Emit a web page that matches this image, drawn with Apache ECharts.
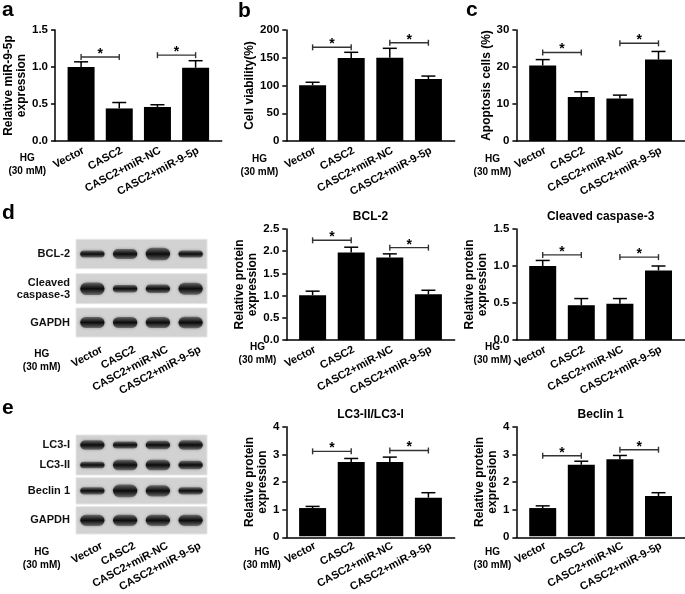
<!DOCTYPE html>
<html><head><meta charset="utf-8">
<script src="https://cdn.jsdelivr.net/npm/echarts@6/dist/echarts.min.js"></script>
<style>html,body{margin:0;padding:0;background:#fff}#c{width:685px;height:594px}</style>
</head><body><div id="c"></div>
<script>
const groups = ['Vector', 'CASC2', 'CASC2+miR-NC', 'CASC2+miR-9-5p'];
// a: relative miR-9-5p expression
const mirValues = [1.00, 0.44, 0.46, 0.99];
const mirErrors = [0.07, 0.08, 0.03, 0.095];
const mirBrackets = [[0, 1, 1.135], [2, 3, 1.16]];
// b: cell viability (%)
const viabilityValues = [100.5, 149.5, 150, 111.7];
const viabilityErrors = [5.3, 10.3, 17, 5.3];
const viabilityBrackets = [[0, 1, 168.8], [2, 3, 177]];
// c: apoptosis cells (%)
const apoptosisValues = [20.4, 11.9, 11.5, 22.0];
const apoptosisErrors = [1.6, 1.4, 0.9, 2.2];
const apoptosisBrackets = [[0, 1, 23.9], [2, 3, 26.4]];
// d: BCL-2 / Cleaved caspase-3
const bcl2Values = [1.01, 1.97, 1.86, 1.03];
const bcl2Errors = [0.09, 0.12, 0.08, 0.09];
const bcl2Brackets = [[0, 1, 2.245], [2, 3, 2.08]];
const caspValues = [1.00, 0.47, 0.49, 0.94];
const caspErrors = [0.075, 0.09, 0.07, 0.06];
const caspBrackets = [[0, 1, 1.15], [2, 3, 1.12]];
// e: LC3-II/LC3-I / Beclin 1
const lc3Values = [1.03, 2.71, 2.71, 1.41];
const lc3Errors = [0.06, 0.13, 0.18, 0.18];
const lc3Brackets = [[0, 1, 3.1], [2, 3, 3.13]];
const beclinValues = [1.03, 2.61, 2.81, 1.47];
const beclinErrors = [0.08, 0.13, 0.14, 0.12];
const beclinBrackets = [[0, 1, 2.94], [2, 3, 3.16]];
// western blot band strengths (relative)
const bcl2Bands = [0.35, 0.65, 0.95, 0.35];
const caspBands = [0.95, 0.4, 0.5, 0.9];
const gapdhBandsD = [0.8, 0.8, 0.8, 0.85];
const lc3iBands = [0.6, 0.35, 0.5, 0.6];
const lc3iiBands = [0.3, 0.7, 0.7, 0.5];
const beclinBands = [0.35, 0.95, 0.8, 0.35];
const gapdhBandsE = [0.8, 0.8, 0.8, 0.8];

const FONT = '"Liberation Sans", Arial, Helvetica, sans-serif';
const chart = echarts.init(document.getElementById('c'));

const panels = [
  {vals: mirValues, errs: mirErrors, br: mirBrackets, left: 55, top: 30, width: 166.7, height: 111, max: 1.5, interval: 0.5, dec: 1, name: 'Relative miR-9-5p\nexpression', gap: 22},
  {vals: viabilityValues, errs: viabilityErrors, br: viabilityBrackets, left: 286.3, top: 30, width: 168.4, height: 111, max: 200, interval: 50, dec: 0, name: 'Cell viability(%)', gap: 27},
  {vals: apoptosisValues, errs: apoptosisErrors, br: apoptosisBrackets, left: 516.4, top: 30, width: 168.4, height: 111, max: 30, interval: 10, dec: 0, name: 'Apoptosis cells (%)', gap: 15},
  {vals: bcl2Values, errs: bcl2Errors, br: bcl2Brackets, left: 286.3, top: 229, width: 168.4, height: 111, max: 2.5, interval: 0.5, dec: 1, name: 'Relative protein\nexpression', gap: 21, title: 'BCL-2'},
  {vals: caspValues, errs: caspErrors, br: caspBrackets, left: 516.4, top: 229, width: 168.4, height: 111, max: 1.5, interval: 0.5, dec: 1, name: 'Relative protein\nexpression', gap: 22, title: 'Cleaved caspase-3'},
  {vals: lc3Values, errs: lc3Errors, br: lc3Brackets, left: 286.3, top: 426.7, width: 168.4, height: 110.6, max: 4, interval: 1, dec: 0, name: 'Relative protein\nexpression', gap: 13, title: 'LC3-II/LC3-I'},
  {vals: beclinValues, errs: beclinErrors, br: beclinBrackets, left: 516.4, top: 426.7, width: 168.4, height: 110.6, max: 4, interval: 1, dec: 0, name: 'Relative protein\nexpression', gap: 13, title: 'Beclin 1'}
];

const grid = [], xAxis = [], yAxis = [], series = [], graphic = [];
const INSET = 7;

function errItem(params, api) {
  const x = api.value(0), v = api.value(1), e = api.value(2);
  const p0 = api.coord([x, v]);
  const p1 = api.coord([x, v + e]);
  const st = {stroke: '#000', lineWidth: 1.5};
  return {type: 'group', children: [
    {type: 'line', shape: {x1: p0[0], y1: p0[1], x2: p1[0], y2: p1[1]}, style: st},
    {type: 'line', shape: {x1: p1[0] - 7, y1: p1[1], x2: p1[0] + 7, y2: p1[1]}, style: st}
  ]};
}
function bracketItem(params, api) {
  const a = api.coord([api.value(0), api.value(2)]);
  const b = api.coord([api.value(1), api.value(2)]);
  const st = {stroke: '#333', lineWidth: 1.4};
  return {type: 'group', children: [
    {type: 'line', shape: {x1: a[0], y1: a[1], x2: b[0], y2: b[1]}, style: st},
    {type: 'line', shape: {x1: a[0], y1: a[1] - 3, x2: a[0], y2: a[1] + 3}, style: st},
    {type: 'line', shape: {x1: b[0], y1: b[1] - 3, x2: b[0], y2: b[1] + 3}, style: st},
    {type: 'text', x: (a[0] + b[0]) / 2, y: a[1] - 3, style: {text: '*', fill: '#000', font: 'bold 14px ' + FONT, align: 'center', verticalAlign: 'middle'}}
  ]};
}

const catLabel = (margin) => ({interval: 0, rotate: 28, color: '#000', fontWeight: 'bold', fontSize: 11, fontFamily: FONT, margin: margin, align: 'right', verticalAlign: 'top'});

panels.forEach(p => {
  const gF = grid.length;
  grid.push({left: p.left, top: p.top, width: p.width, height: p.height});
  const gI = grid.length;
  grid.push({left: p.left + INSET, top: p.top, width: p.width - 2 * INSET, height: p.height});
  xAxis.push({gridIndex: gF, type: 'value', min: 0, max: 1, axisLine: {show: true, onZero: false, lineStyle: {color: '#000', width: 1.5}}, axisTick: {show: false}, axisLabel: {show: false}, splitLine: {show: false}});
  yAxis.push({gridIndex: gF, type: 'value', min: 0, max: p.max, interval: p.interval,
    axisLine: {show: true, onZero: false, lineStyle: {color: '#000', width: 1.5}},
    axisTick: {show: true, length: 4, lineStyle: {color: '#000', width: 1.5}},
    axisLabel: {formatter: v => v.toFixed(p.dec), color: '#000', fontWeight: 'bold', fontSize: 11.5, fontFamily: FONT, margin: 7},
    splitLine: {show: false},
    name: p.name, nameLocation: 'middle', nameGap: p.gap,
    nameTextStyle: {color: '#000', fontWeight: 'bold', fontSize: 12, fontFamily: FONT, lineHeight: 13}});
  const xi = xAxis.length, yi = yAxis.length;
  xAxis.push({gridIndex: gI, type: 'category', data: groups, axisLine: {show: false}, axisTick: {show: false},
    axisLabel: catLabel(4)});
  yAxis.push({gridIndex: gI, type: 'value', min: 0, max: p.max, show: false});
  series.push({type: 'bar', xAxisIndex: xi, yAxisIndex: yi, data: p.vals, barWidth: 27, itemStyle: {color: '#000'}, silent: true});
  series.push({type: 'custom', xAxisIndex: xi, yAxisIndex: yi, renderItem: errItem, encode: {x: 0, y: 1},
    data: p.vals.map((v, i) => [i, v, p.errs[i]]), z: 3, clip: false});
  series.push({type: 'custom', xAxisIndex: xi, yAxisIndex: yi, renderItem: bracketItem, encode: {x: [0, 1], y: 2},
    data: p.br, z: 3, clip: false});
  if (p.title) {
    graphic.push({type: 'text', x: p.left + p.width / 2, y: p.top - 12,
      style: {text: p.title, fill: '#000', font: 'bold 12px ' + FONT, align: 'center', verticalAlign: 'middle'}});
  }
});

// Western blots
function bandItem(params, api) {
  const c = api.coord([api.value(0), api.value(1)]);
  const s = api.size([1, 1]);
  const k = api.value(2);
  const w = s[0] * 0.74;
  const h = 4 + 9 * k;
  return {type: 'rect', shape: {x: c[0] - w / 2, y: c[1] - h / 2, width: w, height: h, r: h / 2},
    style: {fill: {type: 'linear', x: 0, y: 0, x2: 0, y2: 1, colorStops: [
      {offset: 0, color: 'rgba(60,60,60,0.55)'}, {offset: 0.5, color: '#0b0b0b'}, {offset: 1, color: 'rgba(60,60,60,0.55)'}]},
      shadowBlur: 3, shadowColor: 'rgba(0,0,0,0.55)'}};
}
const lanes = ['1', '2', '3', '4'];
function addBlot(boxes, labelMargin) {
  boxes.forEach(b => {
    const g = grid.length;
    grid.push({left: 76, top: b.top, width: 131, height: b.height, show: true, backgroundColor: '#d2d2d2', borderColor: '#e6e6e6', borderWidth: 1});
    const xi = xAxis.length, yi = yAxis.length;
    xAxis.push({gridIndex: g, type: 'category', data: lanes, show: false});
    yAxis.push({gridIndex: g, type: 'category', data: b.rows, axisLine: {show: false}, axisTick: {show: false},
      axisLabel: {color: '#111', fontWeight: 'bold', fontSize: 11, fontFamily: FONT, margin: 6, lineHeight: 12, align: 'right'}});
    const data = [];
    b.bands.forEach((arr, r) => arr.forEach((k, l) => data.push([l, r, k])));
    series.push({type: 'custom', xAxisIndex: xi, yAxisIndex: yi, renderItem: bandItem, encode: {x: 0, y: 1}, data: data, silent: true});
  });
  const last = boxes[boxes.length - 1];
  const g = grid.length;
  grid.push({left: 83, top: last.top, width: 131, height: last.height});
  xAxis.push({gridIndex: g, type: 'category', data: groups, axisLine: {show: false}, axisTick: {show: false},
    axisLabel: catLabel(labelMargin)});
  yAxis.push({gridIndex: g, type: 'value', show: false});
}
addBlot([
  {top: 239.3, height: 29.4, rows: ['BCL-2'], bands: [bcl2Bands]},
  {top: 273.7, height: 30, rows: ['Cleaved\ncaspase-3'], bands: [caspBands]},
  {top: 308, height: 29, rows: ['GAPDH'], bands: [gapdhBandsD]}
], 7);
addBlot([
  {top: 435, height: 40, rows: ['LC3-II', 'LC3-I'], bands: [lc3iiBands, lc3iBands]},
  {top: 477.7, height: 26.3, rows: ['Beclin 1'], bands: [beclinBands]},
  {top: 506.7, height: 27.3, rows: ['GAPDH'], bands: [gapdhBandsE]}
], 9);

// panel letters
[['a', 2, 10], ['b', 238, 11], ['c', 466, 10], ['d', 2, 213], ['e', 2, 408]].forEach(t => {
  graphic.push({type: 'text', x: t[1], y: t[2], style: {text: t[0], fill: '#000', font: 'bold 21px ' + FONT, align: 'left', verticalAlign: 'middle'}});
});
// treatment labels
[[27.3, 165], [259.5, 166], [492.5, 165.5], [257.5, 354], [492.5, 354], [262, 559], [492.5, 559], [41.7, 361], [41.7, 559]].forEach(t => {
  graphic.push({type: 'text', x: t[0], y: t[1], style: {text: 'HG\n(30 mM)', fill: '#000', font: 'bold 10px ' + FONT, lineHeight: 13, align: 'center', verticalAlign: 'middle'}});
});

chart.setOption({animation: false, backgroundColor: '#fff', grid, xAxis, yAxis, series, graphic});
</script></body></html>
